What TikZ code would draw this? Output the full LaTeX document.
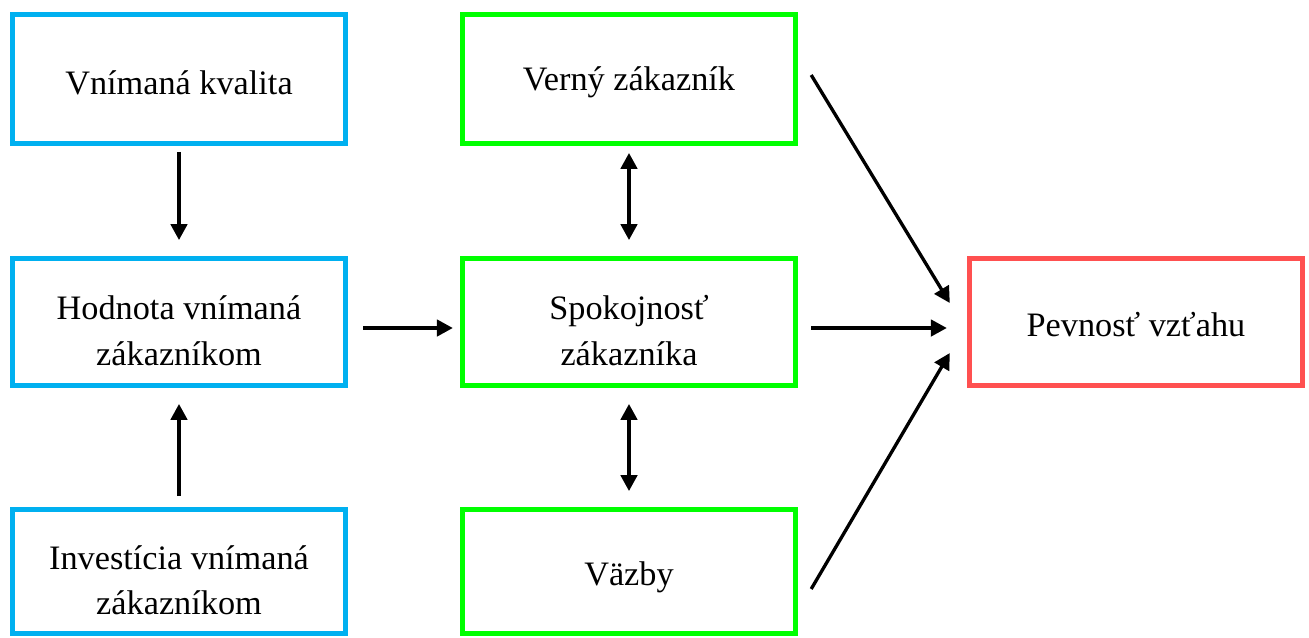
\documentclass[tikz,border=0pt]{standalone}
\usepackage{fontspec}
\setmainfont{Liberation Serif}
\usetikzlibrary{arrows.meta}
\definecolor{boxblue}{HTML}{00B0F0}
\definecolor{boxgreen}{HTML}{00FF00}
\definecolor{boxred}{HTML}{FF5050}
\newcommand{\textdown}[1]{\rule{0pt}{#1}}
\tikzset{
	box/.style={draw, line width=3.1pt, minimum width=6.66cm, minimum height=2.53cm, align=center, text=black, font=\fontsize{19.5}{26}\selectfont},
	arr/.style={line width=1.9pt, -{Triangle[length=0.32cm,width=0.33cm]}},
	dblarr/.style={line width=1.9pt, {Triangle[length=0.32cm,width=0.33cm]}-{Triangle[length=0.32cm,width=0.33cm]}}
}
\begin{document}
\begin{tikzpicture}[x=0.02cm,y=-0.02cm]
		\useasboundingbox (0,0) rectangle (1309,637);
		% left column
		\node[box, draw=boxblue, minimum height=2.57cm] (kvalita) at (179,79) {\textdown{0.62cm}Vnímaná kvalita};
		\node[box, draw=boxblue] (hodnota) at (179,322) {\textdown{0.82cm}Hodnota vnímaná\\zákazníkom};
		\node[box, draw=boxblue, minimum height=2.47cm] (investicia) at (179,571.5) {\textdown{0.82cm}Investícia vnímaná\\zákazníkom};
		% middle column
		\node[box, draw=boxgreen, minimum height=2.57cm] (verny) at (629,79) {\textdown{0.62cm}Verný zákazník};
		\node[box, draw=boxgreen] (spokojnost) at (629,322) {\textdown{0.84cm}Spokojnosť\\zákazníka};
		\node[box, draw=boxgreen, minimum height=2.47cm] (vazby) at (629,571.5) {\textdown{0.71cm}Väzby};
		% right column
		\node[box, draw=boxred] (pevnost) at (1136,322) {\textdown{0.58cm}Pevnosť vzťahu};
		% arrows
		\draw[arr, shorten <=0.12cm, shorten >=0.32cm] (kvalita) -- (hodnota);
		\draw[arr, shorten <=0.22cm, shorten >=0.32cm] (investicia) -- (hodnota);
		\draw[arr, shorten <=0.3cm, shorten >=0.14cm] ([yshift=-0.12cm]hodnota.east) -- ([yshift=-0.12cm]spokojnost.west);
		\draw[dblarr, shorten <=0.14cm, shorten >=0.32cm] (verny) -- (spokojnost);
		\draw[dblarr, shorten <=0.32cm, shorten >=0.32cm] (spokojnost) -- (vazby);
		\draw[arr] ([shift={(13,-4)}]verny.east) -- ([shift={(-17,-19)}]pevnost.west);
		\draw[arr] ([shift={(13,6)}]spokojnost.east) -- ([shift={(-20,6)}]pevnost.west);
		\draw[arr] ([shift={(13,17.5)}]vazby.east) -- ([shift={(-17,31)}]pevnost.west);
\end{tikzpicture}
\end{document}
